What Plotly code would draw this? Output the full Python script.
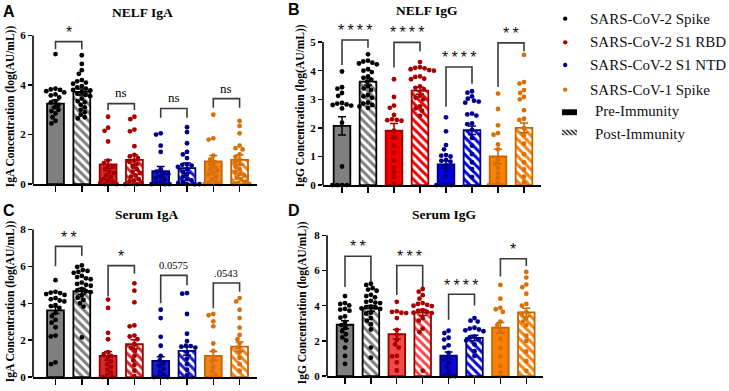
import math
import plotly.graph_objects as go

W, H = 729, 391
SERIF = "Liberation Serif, Times New Roman, serif"
SANS = "Liberation Sans, Arial, sans-serif"

# ---------------- data ----------------
antigens = ["SARS-CoV-2 Spike", "SARS-CoV-2 S1 RBD", "SARS-CoV-2 S1 NTD", "SARS-CoV-1 Spike"]
phases = ["Pre-Immunity", "Post-Immunity"]

# Panel A: NELF IgA (bars ordered antigen x phase)
a_means = [3.25, 3.72, 0.80, 0.98, 0.52, 0.65, 0.92, 0.98]
a_sems = [0.15, 0.12, 0.17, 0.20, 0.19, 0.20, 0.24, 0.20]
a_points = [
    [5.25, 3.85, 3.82, 3.8, 3.75, 3.7, 3.62, 3.58, 3.5, 3.35, 3.3, 3.2, 3.1, 3.0, 2.95, 2.85, 2.7, 2.55, 2.45],
    [5.2, 4.85, 4.6, 4.45, 4.2, 4.15, 4.1, 4.05, 3.95, 3.9, 3.85, 3.8, 3.78, 3.72, 3.65, 3.6, 3.55, 3.45, 3.35, 3.3, 3.2, 3.1, 3.0, 2.9, 2.8, 2.7, 2.65],
    [2.72, 2.28, 2.15, 1.72, 0.95, 0.85, 0.75, 0.7, 0.6, 0.5, 0.45, 0.35, 0.3, 0.2, 0.15, 0.1, 0.05, 0.0, 0.0],
    [2.72, 2.62, 2.2, 2.13, 1.53, 1.18, 1.12, 1.05, 0.95, 0.9, 0.8, 0.7, 0.6, 0.5, 0.45, 0.35, 0.3, 0.2, 0.15, 0.1, 0.05, 0.0, 0.0],
    [2.05, 2.0, 1.55, 1.3, 0.6, 0.5, 0.45, 0.4, 0.3, 0.25, 0.2, 0.1, 0.05, 0.0, 0.0, 0.0],
    [2.3, 2.1, 1.65, 1.3, 1.2, 1.05, 0.8, 0.78, 0.75, 0.7, 0.6, 0.5, 0.4, 0.3, 0.2, 0.15, 0.1, 0.05, 0.0, 0.0, 0.0],
    [2.8, 1.85, 1.8, 1.15, 1.0, 0.9, 0.8, 0.7, 0.6, 0.55, 0.45, 0.4, 0.3, 0.2, 0.1, 0.05, 0.0, 0.0],
    [2.55, 2.35, 2.05, 1.55, 1.45, 1.4, 1.2, 1.1, 1.0, 0.9, 0.8, 0.7, 0.6, 0.5, 0.4, 0.35, 0.25, 0.2, 0.1, 0.05, 0.0, 0.0],
]
a_br_top = [5.75, 3.25, 3.05, 3.45]
a_br_left = [5.44, 2.99, 2.68, 3.08]
a_br_right = [5.44, 2.99, 2.68, 3.08]
a_labels = ["*", "ns", "ns", "ns"]
a_label_y = [6.17, 3.68, 3.48, 3.85]

# Panel B: NELF IgG
b_means = [2.07, 3.62, 1.90, 3.30, 0.72, 1.92, 1.00, 2.00]
b_sems = [0.32, 0.12, 0.25, 0.12, 0.13, 0.15, 0.25, 0.17]
b_points = [
    [3.97, 3.42, 3.37, 3.22, 3.12, 2.87, 2.85, 2.82, 2.8, 2.78, 2.68, 2.18, 0.65, 0.0, 0.0, 0.0, 0.0],
    [4.57, 4.35, 4.32, 4.28, 4.25, 4.22, 4.05, 4.0, 3.95, 3.8, 3.75, 3.68, 3.62, 3.45, 3.38, 3.32, 3.15, 3.1, 3.05, 2.88, 2.85, 2.8, 2.75, 2.7],
    [3.7, 3.08, 2.78, 2.7, 2.45, 2.3, 2.28, 2.27, 2.25, 1.9, 1.65, 1.38, 1.14, 0.87, 0.62, 0.45, 0.27, 0.05],
    [4.3, 4.12, 4.1, 4.08, 4.05, 4.02, 4.0, 3.8, 3.78, 3.72, 3.7, 3.45, 3.4, 3.35, 3.12, 3.05, 3.0, 2.75, 2.68, 2.6, 2.42],
    [2.37, 1.88, 1.4, 1.25, 1.05, 1.03, 1.0, 0.88, 0.85, 0.82, 0.7, 0.5, 0.3, 0.0, 0.0, 0.0, 0.0],
    [3.28, 3.23, 3.1, 3.02, 2.95, 2.92, 2.88, 2.5, 2.47, 2.43, 2.16, 2.13, 1.93, 1.65, 1.38, 1.08, 0.8, 0.56, 0.28],
    [3.2, 2.66, 2.09, 1.82, 1.76, 1.42, 1.25, 0.88, 0.75, 0.6, 0.42, 0.25, 0.08, 0.0, 0.0, 0.0],
    [4.55, 3.6, 3.55, 3.32, 3.22, 3.08, 3.0, 2.62, 2.32, 2.28, 2.0, 1.75, 1.45, 1.08, 0.8, 0.55, 0.3, 0.1],
]
b_br_top = [5.07, 4.99, 4.13, 4.97]
b_br_left = [4.2, 4.11, 2.74, 3.43]
b_br_right = [4.8, 4.68, 3.54, 4.68]
b_labels = ["****", "****", "****", "**"]
b_label_y = [5.45, 5.37, 4.51, 5.34]

# Panel C: Serum IgA
c_means = [3.62, 4.65, 1.15, 1.78, 0.88, 1.42, 1.15, 1.65]
c_sems = [0.18, 0.16, 0.24, 0.25, 0.22, 0.23, 0.24, 0.25]
c_points = [
    [5.25, 4.62, 4.58, 4.55, 4.5, 4.45, 4.28, 4.22, 4.15, 4.1, 3.9, 3.85, 3.75, 3.47, 3.3, 3.1, 2.95, 2.7, 2.25, 2.2, 0.8, 0.7],
    [6.05, 5.97, 5.8, 5.75, 5.7, 5.65, 5.48, 5.42, 5.35, 5.3, 5.12, 5.05, 5.0, 4.95, 4.78, 4.7, 4.65, 4.6, 4.42, 4.3, 4.18, 4.0, 3.82, 2.15],
    [4.2, 3.75, 2.4, 2.05, 1.35, 1.25, 1.15, 1.0, 0.85, 0.7, 0.55, 0.4, 0.25, 0.12, 0.0, 0.0],
    [5.08, 4.68, 4.05, 2.8, 2.75, 2.25, 2.2, 2.05, 1.8, 1.6, 1.42, 1.15, 0.9, 0.65, 0.35, 0.05],
    [3.65, 3.2, 2.18, 1.7, 1.15, 0.9, 0.75, 0.6, 0.45, 0.3, 0.15, 0.05, 0.0, 0.0],
    [4.55, 4.52, 3.42, 2.35, 1.95, 1.7, 1.68, 1.65, 1.6, 1.35, 1.0, 0.7, 0.4, 0.1],
    [3.42, 3.35, 3.02, 2.75, 1.82, 1.42, 1.1, 0.85, 0.55, 0.3, 0.1, 0.0],
    [4.28, 4.1, 3.65, 3.2, 2.68, 2.28, 2.05, 1.82, 1.6, 1.35, 1.05, 0.7, 0.35],
]
c_br_top = [7.08, 6.04, 5.51, 5.10]
c_br_left = [6.01, 4.36, 4.0, 3.73]
c_br_right = [6.58, 5.6, 4.98, 4.62]
c_labels = ["**", "*", "0.0575", ".0543"]
c_label_y = [7.64, 6.61, 6.04, 5.6]

# Panel D: Serum IgG
d_means = [2.92, 3.85, 2.38, 3.62, 1.17, 2.17, 2.75, 3.62]
d_sems = [0.23, 0.17, 0.27, 0.17, 0.20, 0.16, 0.30, 0.23]
d_points = [
    [4.55, 4.15, 4.1, 4.02, 3.82, 3.78, 3.72, 3.4, 3.32, 3.08, 2.9, 2.75, 2.55, 2.38, 2.2, 2.03, 1.62, 1.15, 0.7],
    [5.25, 5.18, 5.0, 4.92, 4.85, 4.62, 4.55, 4.48, 4.28, 4.22, 4.18, 4.15, 3.95, 3.92, 3.9, 3.85, 3.82, 3.6, 3.55, 3.3, 3.15, 2.95, 2.65, 1.62, 1.05],
    [4.22, 3.68, 3.65, 3.6, 3.58, 3.3, 2.62, 2.35, 2.05, 1.8, 1.62, 1.15, 1.12, 0.78, 0.32],
    [4.95, 4.8, 4.6, 4.4, 4.15, 4.1, 4.05, 4.0, 3.98, 3.75, 3.7, 3.65, 3.6, 3.58, 3.3, 3.15, 2.7, 2.5, 0.3],
    [2.58, 2.45, 2.18, 2.08, 1.75, 1.62, 1.32, 1.05, 0.95, 0.75, 0.5, 0.25, 0.05, 0.0, 0.0],
    [3.3, 3.15, 3.1, 2.75, 2.7, 2.65, 2.6, 2.55, 2.25, 2.2, 2.1, 2.02, 1.8, 1.42, 1.15],
    [5.18, 4.4, 3.88, 3.8, 3.65, 3.1, 2.9, 2.55, 2.12, 1.6, 1.12, 0.58, 0.2],
    [5.92, 5.6, 5.2, 5.05, 4.68, 4.1, 4.0, 3.65, 3.55, 3.3, 3.1, 2.9, 2.3, 2.0, 1.4, 0.85, 0.3],
]
d_br_top = [6.81, 6.29, 4.65, 6.67]
d_br_left = [5.07, 4.61, 3.21, 5.66]
d_br_right = [5.35, 5.07, 4.01, 6.26]
d_labels = ["**", "***", "****", "*"]
d_label_y = [7.4, 6.88, 5.22, 7.28]

# ---------------- styling / layout ----------------
point_colors = ["#000000", "#a80000", "#00008f", "#d87008"]
outline_colors = ["#000000", "#9a0000", "#00007a", "#c86400"]

panels = [
    dict(letter="A", title="NELF IgA", ylab="IgA Concentration (log(AU/mL))",
         means=a_means, sems=a_sems, pts=a_points, top=a_br_top, bl=a_br_left, br=a_br_right,
         labels=a_labels, ly=a_label_y, ymax=6, dtick=2,
         fills=["#7f7f7f", "#d42a2a", "#1c1cc8", "#f2851a"],
         x0=33, x1=257, ytop=36, ybot=187, first=55.5, step=26.3,
         title_xy=(142, 13), letter_xy=(9, 12), ylab_xy=(10, 108)),
    dict(letter="B", title="NELF IgG", ylab="IgG Concentration (log(AU/mL))",
         means=b_means, sems=b_sems, pts=b_points, top=b_br_top, bl=b_br_left, br=b_br_right,
         labels=b_labels, ly=b_label_y, ymax=5, dtick=1,
         fills=["#7f7f7f", "#f20000", "#0000e0", "#fb8008"],
         x0=323, x1=541, ytop=42.7, ybot=188, first=342, step=26.0,
         title_xy=(427, 11), letter_xy=(294, 10), ylab_xy=(300, 108)),
    dict(letter="C", title="Serum IgA", ylab="IgA Concentration (log(AU/mL))",
         means=c_means, sems=c_sems, pts=c_points, top=c_br_top, bl=c_br_left, br=c_br_right,
         labels=c_labels, ly=c_label_y, ymax=8, dtick=2,
         fills=["#7f7f7f", "#d42a2a", "#1c1cc8", "#f2851a"],
         x0=33, x1=257, ytop=233, ybot=383, first=55.5, step=26.3,
         title_xy=(147, 218), letter_xy=(9, 214), ylab_xy=(10, 306)),
    dict(letter="D", title="Serum IgG", ylab="IgG Concentration (log(AU/mL))",
         means=d_means, sems=d_sems, pts=d_points, top=d_br_top, bl=d_br_left, br=d_br_right,
         labels=d_labels, ly=d_label_y, ymax=8, dtick=2,
         fills=["#7f7f7f", "#f24848", "#0a0ad2", "#fb8008"],
         x0=327, x1=543, ytop=239, ybot=382, first=345, step=25.9,
         title_xy=(444, 218), letter_xy=(294, 214), ylab_xy=(302, 308)),
]

EXT = 30  # extra pixels of plotting room above each axis for brackets / stars


def px(x):
    return x / W


def py(y):
    return 1 - y / H


def swarm(vals_px, d):
    """Deterministic beeswarm: horizontal pixel offsets for dots at given pixel heights."""
    order = sorted(range(len(vals_px)), key=lambda i: -vals_px[i])
    res = [0.0] * len(vals_px)
    placed = []
    for i in order:
        y = vals_px[i]
        forb = []
        for (qx, qy) in placed:
            dy = abs(qy - y)
            if dy < d:
                dx = math.sqrt(d * d - dy * dy)
                forb.append((qx - dx, qx + dx))
        cands = [0.0] + [a for a, b in forb] + [b for a, b in forb]
        cands.sort(key=lambda c: (round(abs(c), 6), c))
        for c in cands:
            if all(not (a + 1e-6 < c < b - 1e-6) for a, b in forb):
                res[i] = c
                break
        placed.append((res[i], y))
    return res


fig = go.Figure()
layout = dict(
    width=W, height=H, margin=dict(l=0, r=0, t=0, b=0),
    paper_bgcolor="white", plot_bgcolor="rgba(0,0,0,0)",
    showlegend=False, barmode="overlay", hovermode=False,
)
annotations = []
shapes = []

for k, p in enumerate(panels):
    sfx = "" if k == 0 else str(k + 1)
    xa, ya = "x" + sfx, "y" + sfx
    r0 = -(p["first"] - p["x0"]) / p["step"]
    r1 = r0 + (p["x1"] - p["x0"]) / p["step"]
    ypu = (p["ybot"] - p["ytop"]) / p["ymax"]
    ytop_ext = p["ytop"] - EXT
    ymax_ext = p["ymax"] + EXT / ypu
    layout["xaxis" + sfx] = dict(
        domain=[px(p["x0"]), px(p["x1"])], range=[r0, r1], anchor=ya,
        showline=True, linecolor="black", linewidth=1.6, mirror=False,
        ticks="outside", ticklen=6, tickwidth=1.4, tickcolor="black",
        tickvals=list(range(8)), showticklabels=False, showgrid=False, zeroline=False,
        fixedrange=True,
    )
    layout["yaxis" + sfx] = dict(
        domain=[py(p["ybot"]), py(ytop_ext)], range=[0, ymax_ext], anchor=xa,
        showline=False,
        ticks="outside", ticklen=4, tickwidth=1.4, tickcolor="black",
        tickvals=list(range(0, p["ymax"] + 1, p["dtick"])),
        tickfont=dict(family=SERIF, size=11, color="black", weight="bold"),
        showgrid=False, zeroline=False, fixedrange=True,
    )
    # visible y-axis line only up to the top tick
    shapes.append(dict(type="line", xref=xa + " domain", yref=ya, x0=0, x1=0,
                       y0=0, y1=p["ymax"], line=dict(color="black", width=1.6)))

    for i in range(8):
        a = i // 2
        post = i % 2 == 1
        fill = p["fills"][a]
        oc = outline_colors[a]
        marker = dict(color=fill, line=dict(color=oc, width=1.8))
        if post:
            marker["color"] = "white"
            marker["pattern"] = dict(shape="\\", fgcolor=fill, bgcolor="white", fgopacity=1,
                                     size=6, solidity=0.5, fillmode="overlay")
        fig.add_trace(go.Bar(
            x=[i], y=[p["means"][i]], width=0.64, marker=marker,
            error_y=dict(type="data", array=[p["sems"][i]], color=oc, thickness=1.5, width=4),
            xaxis=xa, yaxis=ya, hoverinfo="skip",
            name=antigens[a] + " " + phases[i % 2],
        ))
        vals = p["pts"][i]
        offs = swarm([v * ypu for v in vals], 4.8)
        fig.add_trace(go.Scatter(
            x=[i + o / p["step"] for o in offs], y=vals, mode="markers",
            marker=dict(size=4.8, color=point_colors[a], line=dict(width=0)),
            xaxis=xa, yaxis=ya, cliponaxis=False, hoverinfo="skip",
        ))

    # significance brackets
    for j in range(4):
        xl, xr = 2 * j, 2 * j + 1
        fig.add_trace(go.Scatter(
            x=[xl, xl, xr, xr], y=[p["bl"][j], p["top"][j], p["top"][j], p["br"][j]],
            mode="lines", line=dict(color="#3a3a3a", width=1.6),
            xaxis=xa, yaxis=ya, cliponaxis=False, hoverinfo="skip",
        ))
        lab = p["labels"][j]
        if "*" in lab:
            text = "\u2009".join(lab)
            font = dict(family=SANS, size=16, color="#111111")
            yshift = -1
        elif lab == "ns":
            text = lab
            font = dict(family=SERIF, size=13, color="black")
            yshift = 0
        else:
            text = lab
            font = dict(family=SERIF, size=10.5, color="black")
            yshift = 0
        annotations.append(dict(
            x=(xl + xr) / 2, y=p["ly"][j], xref=xa, yref=ya, text=text, showarrow=False,
            font=font, xanchor="center", yanchor="middle", yshift=yshift,
        ))

    # titles, letters, y labels
    tx, ty = p["title_xy"]
    annotations.append(dict(x=px(tx), y=py(ty), xref="paper", yref="paper", text=p["title"],
                            showarrow=False, xanchor="center", yanchor="middle",
                            font=dict(family=SERIF, size=13.5, color="black", weight="bold")))
    lx, ly = p["letter_xy"]
    annotations.append(dict(x=px(lx), y=py(ly), xref="paper", yref="paper", text=p["letter"],
                            showarrow=False, xanchor="center", yanchor="middle",
                            font=dict(family=SANS, size=16, color="black", weight="bold")))
    yx, yy = p["ylab_xy"]
    annotations.append(dict(x=px(yx), y=py(yy), xref="paper", yref="paper", text=p["ylab"],
                            showarrow=False, xanchor="center", yanchor="middle", textangle=-90,
                            font=dict(family=SERIF, size=11.5, color="black", weight="bold")))

# ---------------- legend (manual) ----------------
legend_y = [19, 43, 66, 91]
for a, name in enumerate(antigens):
    cy = legend_y[a]
    shapes.append(dict(type="circle", xref="paper", yref="paper",
                       x0=px(563), x1=px(567.4), y0=py(cy + 2.2), y1=py(cy - 2.2),
                       fillcolor=point_colors[a], line=dict(width=0)))
    annotations.append(dict(x=px(588), y=py(cy), xref="paper", yref="paper", text=name,
                            showarrow=False, xanchor="left", yanchor="middle",
                            font=dict(family=SERIF, size=15, color="#111111")))
shapes.append(dict(type="rect", xref="paper", yref="paper",
                   x0=px(562), x1=px(577), y0=py(117), y1=py(111),
                   fillcolor="black", line=dict(width=0)))
annotations.append(dict(x=px(593), y=py(113), xref="paper", yref="paper", text=phases[0],
                        showarrow=False, xanchor="left", yanchor="middle",
                        font=dict(family=SERIF, size=15, color="#111111")))
annotations.append(dict(x=px(593), y=py(136), xref="paper", yref="paper", text=phases[1],
                        showarrow=False, xanchor="left", yanchor="middle",
                        font=dict(family=SERIF, size=15, color="#111111")))
layout["xaxis5"] = dict(domain=[px(562), px(577)], range=[-0.5, 0.5], visible=False,
                        anchor="y5", fixedrange=True)
layout["yaxis5"] = dict(domain=[py(137.5), py(131.5)], range=[0, 1], visible=False,
                        anchor="x5", fixedrange=True)
fig.add_trace(go.Bar(x=[0], y=[1], width=1, xaxis="x5", yaxis="y5", hoverinfo="skip",
                     marker=dict(color="white", line=dict(width=0),
                                 pattern=dict(shape="\\", fgcolor="#222222", bgcolor="white",
                                              fgopacity=1, size=3, solidity=0.5,
                                              fillmode="overlay"))))

layout["annotations"] = annotations
layout["shapes"] = shapes
fig.update_layout(**layout)
fig.write_html(
    "out.html",
    config={"displayModeBar": False, "staticPlot": True},
    post_script="document.body.style.margin='0px';document.body.style.overflow='hidden';",
)
